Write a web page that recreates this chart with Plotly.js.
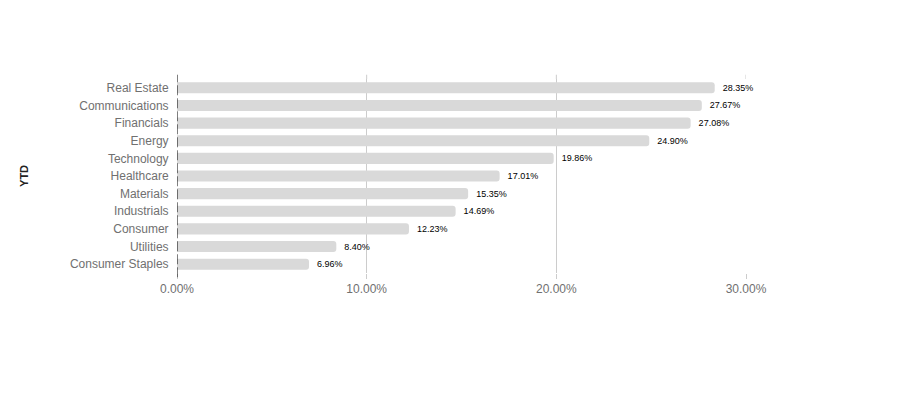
<!DOCTYPE html>
<html>
<head>
<meta charset="utf-8">
<script src="https://cdn.plot.ly/plotly-3.0.1.min.js"></script>
<style>html,body{margin:0;padding:0;background:#fff;}#chart{width:921px;height:396px;}</style>
</head>
<body>
<div id="chart"></div>
<script>
const sectors = ["Real Estate","Communications","Financials","Energy","Technology","Healthcare","Materials","Industrials","Consumer","Utilities","Consumer Staples"];
const ytdValues = [28.35, 27.67, 27.08, 24.90, 19.86, 17.01, 15.35, 14.69, 12.23, 8.40, 6.96];
const xTickVals = [0, 10, 20, 30];
const xTickLabels = ["0.00%","10.00%","20.00%","30.00%"];
const yAxisTitle = "YTD";

const labels = ytdValues.map(v => '\u00a0\u00a0' + v.toFixed(2) + '%');

const trace = {
  type: 'bar',
  orientation: 'h',
  y: sectors,
  x: ytdValues,
  text: labels,
  textposition: 'outside',
  cliponaxis: false,
  textfont: {family: 'Liberation Sans, Arial, sans-serif', size: 9, color: '#000'},
  marker: {color: '#d9d9d9', cornerradius: 3, line: {width: 0}},
  hoverinfo: 'skip'
};

const layout = {
  width: 921, height: 396,
  margin: {l: 177, r: 175, t: 79, b: 123},
  paper_bgcolor: '#fff', plot_bgcolor: '#fff',
  showlegend: false,
  bargap: 0.37,
  font: {family: 'Liberation Sans, Arial, sans-serif', size: 12, color: '#666'},
  xaxis: {
    range: [0, 30], tickvals: xTickVals, ticktext: xTickLabels,
    showgrid: true, gridcolor: '#cccccc', gridwidth: 1, zeroline: false,
    ticks: 'outside', ticklen: 5, tickcolor: '#cccccc',
    tickfont: {size: 12, color: '#707070'}, automargin: false, fixedrange: true
  },
  yaxis: {
    autorange: 'reversed', showgrid: false, zeroline: false,
    ticks: 'outside', ticklen: 5, tickcolor: 'rgba(0,0,0,0)',
    tickfont: {size: 12, color: '#707070'}, automargin: false, fixedrange: true
  },
  shapes: [
    {type: 'line', xref: 'x', yref: 'paper', x0: 0, x1: 0, y0: -0.022, y1: 1.022,
     line: {color: '#000', width: 1, dash: '10px,3px'}},
    {type: 'line', xref: 'x', yref: 'paper', x0: 10, x1: 10, y0: 1, y1: 1.022, line: {color: '#ccc', width: 1}},
    {type: 'line', xref: 'x', yref: 'paper', x0: 20, x1: 20, y0: 1, y1: 1.022, line: {color: '#ccc', width: 1}},
    {type: 'line', xref: 'x', yref: 'paper', x0: 30, x1: 30, y0: 1, y1: 1.022, line: {color: '#ccc', width: 1}}
  ],
  annotations: [
    {text: '<b>' + yAxisTitle + '</b>', xref: 'paper', yref: 'paper', x: -0.269, y: 0.5,
     xanchor: 'center', yanchor: 'middle', textangle: -90, showarrow: false,
     font: {size: 11, color: '#222', family: 'Liberation Sans, Arial, sans-serif'}}
  ]
};

Plotly.newPlot('chart', [trace], layout, {displayModeBar: false, staticPlot: true});
</script>
</body>
</html>
